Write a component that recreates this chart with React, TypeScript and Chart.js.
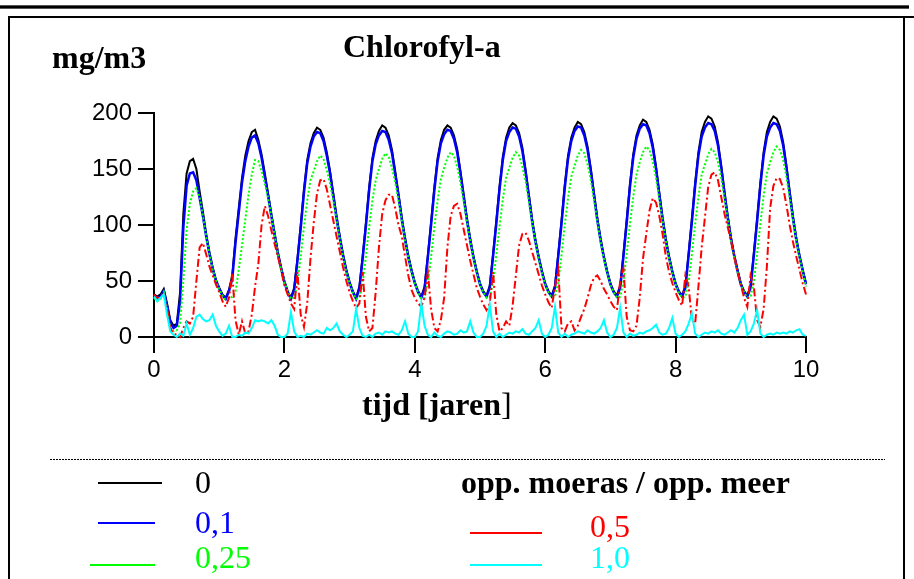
import React, { useEffect, useRef } from "react";
import { Chart, registerables } from "chart.js";

Chart.register(...registerables);

const times = [
  0, 0.05, 0.1, 0.15, 0.2, 0.25, 0.3, 0.35, 0.4, 0.45, 0.5, 0.55, 0.6, 0.65, 0.7, 0.75, 0.8, 0.85, 0.9, 0.95,
  1, 1.05, 1.1, 1.15, 1.2, 1.25, 1.3, 1.35, 1.4, 1.45, 1.5, 1.55, 1.6, 1.65, 1.7, 1.75, 1.8, 1.85, 1.9, 1.95,
  2, 2.05, 2.1, 2.15, 2.2, 2.25, 2.3, 2.35, 2.4, 2.45, 2.5, 2.55, 2.6, 2.65, 2.7, 2.75, 2.8, 2.85, 2.9, 2.95,
  3, 3.05, 3.1, 3.15, 3.2, 3.25, 3.3, 3.35, 3.4, 3.45, 3.5, 3.55, 3.6, 3.65, 3.7, 3.75, 3.8, 3.85, 3.9, 3.95,
  4, 4.05, 4.1, 4.15, 4.2, 4.25, 4.3, 4.35, 4.4, 4.45, 4.5, 4.55, 4.6, 4.65, 4.7, 4.75, 4.8, 4.85, 4.9, 4.95,
  5, 5.05, 5.1, 5.15, 5.2, 5.25, 5.3, 5.35, 5.4, 5.45, 5.5, 5.55, 5.6, 5.65, 5.7, 5.75, 5.8, 5.85, 5.9, 5.95,
  6, 6.05, 6.1, 6.15, 6.2, 6.25, 6.3, 6.35, 6.4, 6.45, 6.5, 6.55, 6.6, 6.65, 6.7, 6.75, 6.8, 6.85, 6.9, 6.95,
  7, 7.05, 7.1, 7.15, 7.2, 7.25, 7.3, 7.35, 7.4, 7.45, 7.5, 7.55, 7.6, 7.65, 7.7, 7.75, 7.8, 7.85, 7.9, 7.95,
  8, 8.05, 8.1, 8.15, 8.2, 8.25, 8.3, 8.35, 8.4, 8.45, 8.5, 8.55, 8.6, 8.65, 8.7, 8.75, 8.8, 8.85, 8.9, 8.95,
  9, 9.05, 9.1, 9.15, 9.2, 9.25, 9.3, 9.35, 9.4, 9.45, 9.5, 9.55, 9.6, 9.65, 9.7, 9.75, 9.8, 9.85, 9.9, 9.95,
  10,
];

// ratio 0
const ratio0 = [
  38, 36, 38, 43, 30, 15, 10, 12, 40, 110, 146, 157, 159, 150, 130, 112, 92, 76, 62, 51,
  44, 38, 35, 42, 55, 88, 115, 142, 162, 175, 183, 185, 176, 163, 146, 128, 110, 93, 76, 62,
  50, 41, 35, 44, 70, 100, 132, 158, 173, 182, 187, 185, 178, 165, 148, 128, 108, 90, 74, 60,
  49, 41, 35, 45, 72, 102, 134, 160, 175, 184, 189, 187, 180, 167, 148, 128, 107, 89, 73, 60,
  49, 41, 36, 45, 73, 103, 134, 160, 176, 185, 189, 187, 180, 168, 148, 127, 106, 88, 72, 59,
  48, 41, 37, 46, 74, 104, 135, 161, 178, 187, 191, 189, 182, 169, 149, 127, 105, 87, 72, 59,
  48, 41, 37, 46, 74, 104, 136, 162, 178, 187, 192, 190, 183, 170, 150, 128, 106, 88, 72, 59,
  48, 41, 37, 46, 74, 105, 137, 163, 180, 189, 194, 192, 185, 172, 152, 129, 107, 88, 72, 59,
  48, 41, 37, 46, 75, 106, 138, 165, 183, 192, 197, 195, 188, 174, 153, 130, 108, 89, 73, 60,
  48, 41, 37, 46, 75, 106, 138, 165, 183, 192, 197, 195, 188, 174, 153, 130, 108, 89, 73, 60,
  48,
];

// ratio 0,1
const ratio01 = [
  37, 35, 36, 41, 28, 13, 8, 10, 32, 98, 135, 146, 147, 140, 124, 108, 90, 74, 61, 50,
  43, 37, 34, 41, 52, 84, 111, 138, 157, 170, 178, 180, 173, 160, 143, 126, 108, 91, 74, 61,
  49, 40, 34, 42, 68, 97, 129, 155, 170, 179, 183, 182, 175, 162, 146, 126, 106, 88, 72, 59,
  48, 40, 34, 43, 70, 99, 131, 157, 172, 180, 184, 183, 176, 164, 145, 126, 105, 87, 71, 59,
  48, 40, 35, 43, 71, 100, 131, 157, 173, 181, 185, 184, 177, 165, 146, 125, 104, 86, 71, 58,
  47, 40, 36, 44, 72, 101, 132, 158, 175, 183, 187, 186, 179, 166, 147, 125, 103, 85, 71, 58,
  47, 40, 36, 44, 72, 101, 133, 159, 175, 184, 188, 187, 180, 167, 148, 126, 104, 86, 71, 58,
  47, 40, 36, 44, 72, 102, 134, 160, 177, 186, 190, 189, 182, 169, 150, 127, 105, 86, 71, 58,
  47, 40, 36, 44, 73, 103, 135, 162, 179, 187, 191, 190, 184, 171, 151, 128, 106, 87, 72, 59,
  47, 40, 36, 44, 73, 103, 135, 162, 179, 187, 191, 190, 184, 171, 151, 128, 106, 87, 72, 59,
  47,
];

// ratio 0,25
const ratio025 = [
  35, 32, 34, 40, 25, 8, 5, 6, 12, 50, 96, 119, 130, 133, 125, 108, 90, 74, 60, 50,
  43, 37, 33, 34, 36, 40, 60, 82, 105, 127, 145, 158, 157, 148, 137, 124, 108, 91, 74, 60,
  49, 41, 34, 35, 48, 72, 98, 122, 140, 148, 157, 162, 159, 149, 137, 122, 105, 87, 71, 58,
  48, 40, 34, 35, 48, 72, 98, 122, 140, 150, 159, 164, 161, 151, 138, 122, 104, 86, 71, 58,
  48, 40, 34, 35, 48, 72, 98, 122, 141, 151, 160, 165, 162, 152, 138, 121, 103, 86, 70, 57,
  47, 40, 35, 36, 49, 73, 99, 123, 142, 151, 160, 165, 162, 152, 139, 121, 102, 85, 70, 57,
  47, 40, 35, 36, 49, 73, 100, 124, 143, 153, 162, 167, 164, 154, 140, 122, 103, 85, 70, 57,
  47, 40, 35, 36, 49, 74, 101, 125, 145, 156, 165, 170, 167, 157, 142, 123, 104, 86, 70, 57,
  47, 40, 35, 36, 49, 74, 101, 125, 145, 154, 163, 168, 165, 156, 142, 124, 105, 86, 71, 58,
  47, 40, 35, 36, 49, 74, 101, 126, 146, 156, 165, 170, 167, 158, 143, 124, 105, 86, 71, 58,
  45,
];

// ratio 0,5
const ratio05 = [
  38, 34, 36, 40, 25, 8, 3, 2, 0, 8, 14, 12, 18, 50, 80, 84, 74, 63, 55, 47,
  40, 32, 27, 35, 57, 15, 2, 14, 3, 5, 20, 45, 65, 100, 117, 108, 95, 83, 72, 60,
  46, 38, 30, 25, 58, 20, 9, 30, 70, 102, 128, 140, 141, 132, 118, 104, 90, 76, 62, 50,
  40, 32, 26, 30, 58, 18, 5, 8, 40, 80, 110, 122, 127, 127, 115, 100, 90, 72, 55, 42,
  35, 30, 27, 35, 58, 25, 8, 5, 15, 35, 80, 108, 117, 119, 110, 96, 82, 68, 56, 44,
  36, 29, 24, 30, 58, 20, 5, 8, 14, 10, 28, 55, 82, 92, 93, 86, 76, 66, 56, 46,
  38, 31, 26, 45, 60, 8, 5, 12, 14, 6, 10, 18, 25, 35, 46, 53, 55, 50, 43, 38,
  32, 27, 24, 50, 61, 18, 6, 5, 10, 35, 70, 92, 113, 124, 120, 108, 92, 72, 58, 48,
  40, 33, 28, 55, 45, 15, 12, 45, 80, 107, 134, 145, 147, 140, 125, 110, 98, 86, 72, 58,
  47, 35, 27, 55, 45, 15, 9, 25, 63, 115, 135, 142, 141, 133, 118, 100, 85, 72, 60, 48,
  38,
];

// ratio 1,0
const ratio10 = [
  36, 32, 35, 38, 20, 5, 2, 0, 3, 1, 12, 2, 8, 18, 20, 16, 14, 15, 20, 10,
  5, 1, 3, 10, 0, 0, 2, 1, 4, 3, 8, 15, 14, 15, 14, 12, 15, 10, 2, 0,
  0, 3, 22, 5, 0, 1, 0, 3, 2, 4, 6, 4, 3, 8, 6, 8, 12, 5, 2, 0,
  2, 5, 25, 8, 1, 0, 2, 0, 3, 4, 2, 5, 4, 5, 3, 2, 6, 14, 3, 0,
  0, 5, 30, 10, 2, 0, 4, 1, 0, 3, 5, 4, 2, 3, 6, 4, 5, 14, 4, 0,
  0, 3, 10, 29, 5, 0, 3, 0, 2, 4, 3, 5, 4, 7, 3, 2, 5, 8, 15, 3,
  0, 2, 8, 27, 4, 0, 3, 0, 2, 3, 5, 4, 3, 6, 4, 3, 5, 8, 15, 4,
  0, 2, 8, 26, 4, 0, 3, 1, 2, 4, 3, 5, 6, 8, 11, 4, 2, 3, 8, 17,
  3, 0, 2, 5, 12, 21, 3, 0, 2, 4, 3, 5, 4, 6, 3, 2, 4, 6, 4, 8,
  15, 20, 2, 5, 12, 24, 3, 0, 2, 3, 2, 4, 3, 4, 3, 5, 4, 6, 7, 2,
  1,
];

const seriesLabels = ["0", "0,1", "0,25", "0,5", "1,0"];
const seriesColors = ["#000000", "#0000ff", "#00ff00", "#ff0000", "#00ffff"];
const xTicks = [0, 2, 4, 6, 8, 10];
const yTicks = [0, 50, 100, 150, 200];

const SERIF = '"Liberation Serif", "Times New Roman", serif';
const SANS = '"Liberation Sans", Arial, sans-serif';

function toPoints(vals: number[]) {
  return vals.map((v, i) => ({ x: times[i], y: v }));
}

function Txt(props: { left: number; top: number; size?: number; bold?: boolean; color?: string; children: React.ReactNode }) {
  const { left, top, size = 32, bold = false, color = "#000", children } = props;
  return (
    <div
      style={{
        position: "absolute",
        left,
        top,
        fontFamily: SERIF,
        fontSize: size,
        lineHeight: `${size}px`,
        fontWeight: bold ? "bold" : "normal",
        color,
        whiteSpace: "nowrap",
      }}
    >
      {children}
    </div>
  );
}

function Line(props: { left: number; top: number; width: number; color: string; h?: number }) {
  return (
    <div
      style={{
        position: "absolute",
        left: props.left,
        top: props.top,
        width: props.width,
        height: props.h ?? 2,
        background: props.color,
      }}
    />
  );
}

export default function App() {
  const ref = useRef<HTMLCanvasElement | null>(null);

  useEffect(() => {
    if (!ref.current) return;
    const all = [ratio0, ratio01, ratio025, ratio05, ratio10];
    const widths = [2, 2.5, 2, 2, 2];
    const dashes: number[][] = [[], [], [2, 2], [8, 3, 2, 3], []];
    const chart = new Chart(ref.current, {
      type: "line",
      data: {
        datasets: all.map((vals, i) => ({
          label: seriesLabels[i],
          data: toPoints(vals),
          borderColor: seriesColors[i],
          backgroundColor: seriesColors[i],
          borderWidth: widths[i],
          borderDash: dashes[i],
          pointRadius: 0,
          tension: 0,
          fill: false,
          order: 5 - i,
          clip: false as any,
        })),
      },
      options: {
        responsive: false,
        animation: false,
        layout: { padding: { left: 84, top: 113, right: 108, bottom: 192 } },
        plugins: { legend: { display: false }, tooltip: { enabled: false }, title: { display: false } },
        scales: {
          x: {
            type: "linear",
            min: 0,
            max: 10,
            afterBuildTicks: (s: any) => {
              s.ticks = xTicks.map((v) => ({ value: v }));
            },
            afterFit: (s: any) => {
              s.height = 50;
            },
            ticks: {
              color: "#000",
              font: { family: SANS, size: 24 },
              padding: 3,
              maxRotation: 0,
            },
            grid: { drawOnChartArea: false, drawTicks: true, tickLength: 16, color: "#000", lineWidth: 2 },
            border: { color: "#000", width: 2 },
          },
          y: {
            type: "linear",
            min: 0,
            max: 200,
            afterBuildTicks: (s: any) => {
              s.ticks = yTicks.map((v) => ({ value: v }));
            },
            afterFit: (s: any) => {
              s.width = 70;
            },
            ticks: {
              color: "#000",
              font: { family: SANS, size: 24 },
              padding: 6,
            },
            grid: { drawOnChartArea: false, drawTicks: true, tickLength: 16, color: "#000", lineWidth: 2 },
            border: { color: "#000", width: 2 },
          },
        },
      },
    });
    return () => chart.destroy();
  }, []);

  return (
    <div style={{ position: "relative", width: 914, height: 579, overflow: "hidden", background: "#fff" }}>
      <style>{`body{margin:0}`}</style>
      <canvas ref={ref} width={914} height={579} style={{ position: "absolute", left: 0, top: 0 }} />
      {/* frame */}
      <div style={{ position: "absolute", left: 0, top: 5, width: 909, height: 4, background: "#555" }} />
      <div style={{ position: "absolute", left: 0, top: 6, width: 909, height: 2, background: "#000" }} />
      <div style={{ position: "absolute", left: 8, top: 16, width: 906, height: 2, background: "#000" }} />
      <div style={{ position: "absolute", left: 8, top: 16, width: 2, height: 563, background: "#000" }} />
      <div style={{ position: "absolute", left: 903, top: 16, width: 2, height: 563, background: "#000" }} />
      {/* titles */}
      <Txt left={343} top={30} bold>Chlorofyl-a</Txt>
      <Txt left={52} top={41} bold>mg/m3</Txt>
      <Txt left={362} top={388} bold>
        tijd [jaren<span style={{ fontWeight: "normal" }}>]</span>
      </Txt>
      {/* dotted separator */}
      <div
        style={{
          position: "absolute",
          left: 50,
          top: 459,
          width: 835,
          height: 1,
          background: "repeating-linear-gradient(to right, #000 0 2px, transparent 2px 3px)",
        }}
      />
      {/* legend */}
      <Line left={98} top={482} width={64} color={seriesColors[0]} />
      <Txt left={195} top={466}>{seriesLabels[0]}</Txt>
      <Line left={98} top={522} width={57} color={seriesColors[1]} />
      <Txt left={195} top={506} color={seriesColors[1]}>{seriesLabels[1]}</Txt>
      <Line left={90} top={564} width={65} color={seriesColors[2]} />
      <Txt left={195} top={541} color={seriesColors[2]}>{seriesLabels[2]}</Txt>
      <Txt left={461} top={466} bold>opp. moeras / opp. meer</Txt>
      <Line left={470} top={532} width={72} color={seriesColors[3]} />
      <Txt left={590} top={510} color={seriesColors[3]}>{seriesLabels[3]}</Txt>
      <Line left={470} top={564} width={72} color={seriesColors[4]} />
      <Txt left={590} top={541} color={seriesColors[4]}>{seriesLabels[4]}</Txt>
    </div>
  );
}
